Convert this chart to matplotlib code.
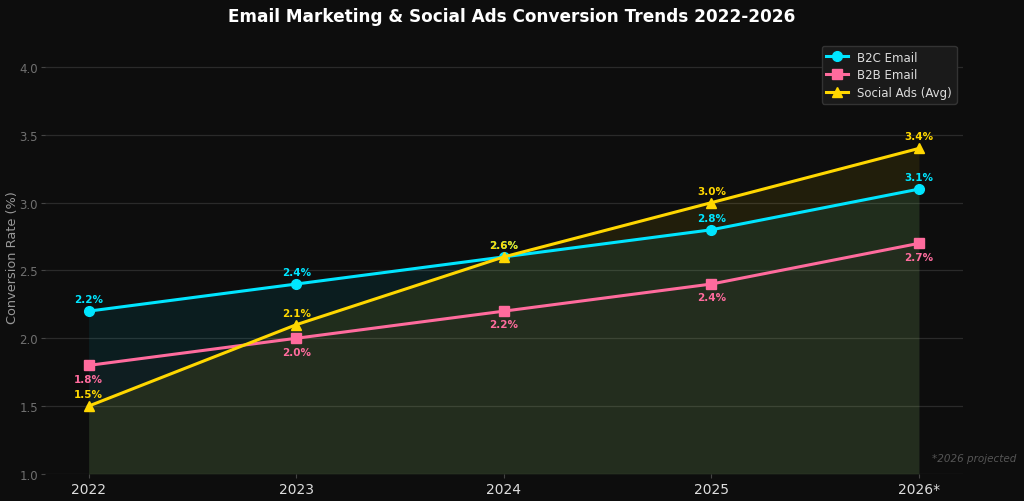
import matplotlib
matplotlib.use("Agg")
import matplotlib.pyplot as plt
import numpy as np

years = ["2022", "2023", "2024", "2025", "2026*"]
b2c = [2.2, 2.4, 2.6, 2.8, 3.1]
b2b = [1.8, 2.0, 2.2, 2.4, 2.7]
social = [1.5, 2.1, 2.6, 3.0, 3.4]

c_b2c = "#00E5FF"
c_b2b = "#FF6B9D"
c_soc = "#FFD700"
bg = "#0d0d0d"

fig = plt.figure(figsize=(10.24, 5.02), dpi=100, facecolor=bg)
ax = fig.add_axes([0.044, 0.054, 0.896, 0.8645], facecolor=bg)
x = np.arange(len(years))

ax.fill_between(x, 1.0, b2c, color=c_b2c, alpha=0.08, lw=0, zorder=1)
ax.fill_between(x, 1.0, b2b, color=c_b2b, alpha=0.02, lw=0, zorder=1)
ax.fill_between(x, 1.0, social, color=c_soc, alpha=0.085, lw=0, zorder=1)

ax.plot(x, b2c, color=c_b2c, lw=2.2, marker="o", ms=7, label="B2C Email", zorder=3)
ax.plot(x, b2b, color=c_b2b, lw=2.2, marker="s", ms=7, label="B2B Email", zorder=3)
ax.plot(x, social, color=c_soc, lw=2.2, marker="^", ms=7, label="Social Ads (Avg)", zorder=3)

for xi, v in zip(x, b2c):
    ax.annotate(f"{v:.1f}%", (xi, v), xytext=(0, 5), textcoords="offset points",
                ha="center", va="bottom", color=c_b2c, fontsize=7.5, fontweight="bold")
for xi, v in zip(x, b2b):
    ax.annotate(f"{v:.1f}%", (xi, v), xytext=(0, -6), textcoords="offset points",
                ha="center", va="top", color=c_b2b, fontsize=7.5, fontweight="bold")
for xi, v in zip(x, social):
    ax.annotate(f"{v:.1f}%", (xi, v), xytext=(0, 5), textcoords="offset points",
                ha="center", va="bottom", color=c_soc, fontsize=7.5, fontweight="bold")

ax.set_xlim(-0.21, 4.21)
ax.set_ylim(1.0, 4.2)
ax.set_yticks([1.0, 1.5, 2.0, 2.5, 3.0, 3.5, 4.0])
ax.set_xticks(x)
ax.set_xticklabels(years)
ax.tick_params(axis="y", colors="#444444", labelcolor="#707070", labelsize=8.5, length=3, pad=2)
ax.tick_params(axis="x", colors="#444444", labelcolor="#dddddd", labelsize=10, length=3, pad=3)
ax.grid(axis="y", color="#2a2a2a", lw=0.9)
ax.set_axisbelow(True)
for s in ax.spines.values():
    s.set_visible(False)

ax.set_ylabel("Conversion Rate (%)", color="#999999", fontsize=9.3, labelpad=0)
fig.suptitle("Email Marketing & Social Ads Conversion Trends 2022-2026",
             color="white", fontsize=12.2, fontweight="bold", y=0.985)

leg = ax.legend(loc="upper right", facecolor="#1a1a1a", edgecolor="#333333",
                labelcolor="#dddddd", fontsize=8.5, framealpha=1.0,
                borderaxespad=0.5, handlelength=1.8, labelspacing=0.4)

fig.text(0.993, 0.085, "*2026 projected", color="#555555", fontsize=7.5,
         style="italic", ha="right", va="center")

fig.savefig("out.png", dpi=100, facecolor=bg)
